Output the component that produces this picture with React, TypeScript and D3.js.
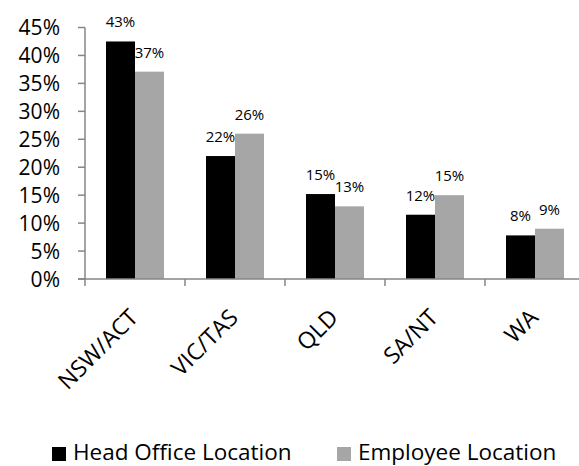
import React from 'react';
import * as d3 from 'd3';

const regions = ['NSW/ACT', 'VIC/TAS', 'QLD', 'SA/NT', 'WA'];
const seriesNames = ['Head Office Location', 'Employee Location'];
const headOffice = [42.5, 22.0, 15.2, 11.5, 7.8];
const employee = [37.1, 26.0, 13.0, 15.0, 9.0];
const headOfficeLabels = ['43%', '22%', '15%', '12%', '8%'];
const employeeLabels = ['37%', '26%', '13%', '15%', '9%'];
const yTicks = [0, 5, 10, 15, 20, 25, 30, 35, 40, 45];

const colors = ['#000000', '#a6a6a6'];
const axisColor = '#868686';
const font = '"Open Sans", sans-serif';

const App = () => {
  const width = 579;
  const height = 466;

  const y = d3.scaleLinear().domain([0, 45]).range([279, 27.5]);
  const x0 = d3.scaleBand().domain(regions).range([85, 585]);
  const x1 = d3.scaleBand().domain(seriesNames).range([21, 79]);

  const values = [headOffice, employee];
  const labels = [headOfficeLabels, employeeLabels];

  return (
    <svg width={width} height={height}
      style={{ position: 'absolute', left: 0, top: 0, background: '#fff' }}>
      {/* y axis */}
      <line x1={85} x2={85} y1={y(45)} y2={y(0)} stroke={axisColor} strokeWidth={1.5} />
      {yTicks.map(t => (
        <g key={t}>
          <line x1={78} x2={85} y1={y(t)} y2={y(t)} stroke={axisColor} strokeWidth={1.5} />
          <text x={60} y={y(t)} dy="0.36em" textAnchor="end"
            fontFamily={font} fontSize={21} fill="#000">{t}%</text>
        </g>
      ))}

      {/* bars */}
      {regions.map((r, i) => (
        <g key={r} transform={`translate(${x0(r)},0)`}>
          {seriesNames.map((s, j) => {
            const v = values[j][i];
            const bx = x1(s) as number;
            return (
              <g key={s}>
                <rect x={bx} y={y(v)} width={x1.bandwidth()} height={y(0) - y(v)}
                  fill={colors[j]} />
                <text x={bx + x1.bandwidth() / 2} y={y(v) - 14} textAnchor="middle"
                  fontFamily={font} fontSize={15} fill="#000">{labels[j][i]}</text>
              </g>
            );
          })}
        </g>
      ))}

      {/* x axis */}
      <line x1={78} x2={585} y1={y(0)} y2={y(0)} stroke={axisColor} strokeWidth={1.5} />
      {regions.map(r => (
        <line key={r} x1={(x0(r) as number)} x2={(x0(r) as number)} y1={y(0)} y2={y(0) + 7}
          stroke={axisColor} strokeWidth={1.5} />
      ))}
      {regions.map(r => {
        const cx = (x0(r) as number) + x0.bandwidth() / 2;
        return (
          <text key={r} transform={`translate(${cx + 4.5},${y(0) + 40}) rotate(-45)`}
            textAnchor="end" fontFamily={font} fontSize={23} fill="#000">{r}</text>
        );
      })}

      {/* legend */}
      {seriesNames.map((s, j) => {
        const lx = j === 0 ? 52 : 337;
        return (
          <g key={s} transform={`translate(${lx},0)`}>
            <rect x={0} y={447} width={14} height={14} fill={colors[j]} />
            <text x={21} y={460} fontFamily={font} fontSize={22.5} fill="#000">{s}</text>
          </g>
        );
      })}
    </svg>
  );
};

export default App;
